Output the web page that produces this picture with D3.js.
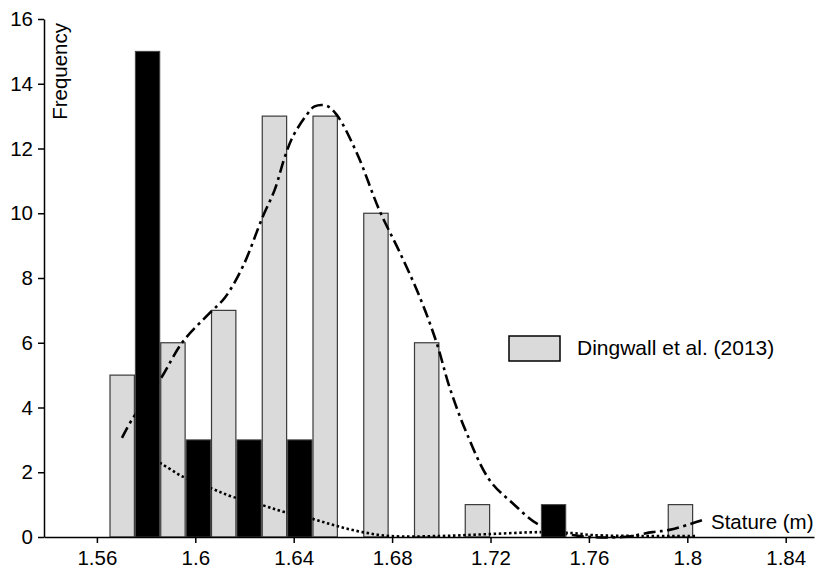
<!DOCTYPE html>
<html>
<head>
<meta charset="utf-8">
<script src="https://cdn.jsdelivr.net/npm/d3@7"></script>
<style>
  body { margin: 0; background: #fff; }
  text { font-family: "Liberation Sans", Arial, Helvetica, sans-serif; fill: #000; }
</style>
</head>
<body>
<svg id="chart" width="816" height="568"></svg>
<script>
// Histogram bins (stature class midpoints, m)
const bins = ["1.57", "1.59", "1.61", "1.63", "1.65", "1.67", "1.69", "1.71", "1.73", "1.75", "1.77", "1.79"];
// Frequencies per bin
const dingwallCounts = [5, 6, 7, 13, 13, 10, 6, 1, 0, 0, 0, 1];
const sampleCounts   = [15, 3, 3, 3, 0, 0, 0, 0, 1, 0, 0, 0];

// Fitted density curve for the Dingwall et al. (2013) series
const dingwallFitX = [1.5702, 1.5742, 1.5856, 1.5949, 1.6059, 1.6120, 1.6193, 1.6274, 1.6323, 1.6363, 1.6396, 1.6453, 1.6485, 1.6534, 1.6575, 1.6656, 1.6749, 1.6830, 1.6912, 1.6981, 1.7033, 1.7103, 1.7196, 1.7289, 1.7399, 1.7533, 1.7736, 1.7858, 1.7927, 1.8036, 1.8060];
const dingwallFitY = [3.06, 3.62, 4.85, 6.03, 6.92, 7.39, 8.35, 9.89, 10.73, 11.72, 12.36, 13.04, 13.30, 13.32, 13.04, 11.87, 10.08, 8.81, 7.42, 6.00, 4.64, 3.21, 1.76, 1.05, 0.37, 0.06, 0.00, 0.15, 0.22, 0.46, 0.52];

// Fitted density curve for the second sample
const sampleFitX = [1.5800, 1.5856, 1.5953, 1.6063, 1.6152, 1.6270, 1.6363, 1.6477, 1.6575, 1.6680, 1.6790, 1.6993, 1.7196, 1.7399, 1.7533, 1.7614, 1.7817, 1.8036];
const sampleFitY = [2.50, 2.29, 1.85, 1.51, 1.24, 0.99, 0.77, 0.56, 0.34, 0.15, 0.03, 0.03, 0.09, 0.15, 0.12, 0.06, 0.03, 0.03];

// Axis ticks
const xTicks = [1.56, 1.60, 1.64, 1.68, 1.72, 1.76, 1.80, 1.84];
const xTickLabels = ["1.56", "1.6", "1.64", "1.68", "1.72", "1.76", "1.8", "1.84"];
const yTicks = [0, 2, 4, 6, 8, 10, 12, 14, 16];
const xDomain = [1.5385, 1.8515];
const yDomain = [0, 16];

const svg = d3.select("#chart");
const plot = { left: 44, right: 814, top: 19, bottom: 537 };

const x = d3.scaleLinear().domain(xDomain).range([plot.left, plot.right]);
const y = d3.scaleLinear().domain(yDomain).range([plot.bottom, plot.top]);
const band = d3.scaleBand().domain(bins).range([109.5, 718.5]).padding(0);
const sub = d3.scaleBand().domain(["dingwall", "sample"]).range([0, band.bandwidth()]).padding(0);

const greyFill = "#d9dad9";
const barStroke = "#3a3a3a";

// Grey bars
svg.append("g").selectAll("rect")
  .data(bins.map((b, i) => ({ b, v: dingwallCounts[i] })).filter(d => d.v > 0))
  .join("rect")
  .attr("x", d => band(d.b) + sub("dingwall") + 0.5)
  .attr("width", sub.bandwidth() - 1)
  .attr("y", d => y(d.v))
  .attr("height", d => y(0) - y(d.v))
  .attr("fill", greyFill)
  .attr("stroke", barStroke)
  .attr("stroke-width", 1.2);

// Fitted curves
const line = d3.line().x(d => x(d[0])).y(d => y(d[1])).curve(d3.curveCatmullRom.alpha(0.5));

svg.append("path")
  .attr("d", line(dingwallFitX.map((v, i) => [v, dingwallFitY[i]])))
  .attr("fill", "none")
  .attr("stroke", "#000")
  .attr("stroke-width", 2.6)
  .attr("stroke-dasharray", "12,4.5,3,4.5");

svg.append("path")
  .attr("d", line(sampleFitX.map((v, i) => [v, sampleFitY[i]])))
  .attr("fill", "none")
  .attr("stroke", "#000")
  .attr("stroke-width", 2.6)
  .attr("stroke-dasharray", "2.5,2.6");

// Black bars
svg.append("g").selectAll("rect")
  .data(bins.map((b, i) => ({ b, v: sampleCounts[i] })).filter(d => d.v > 0))
  .join("rect")
  .attr("x", d => band(d.b) + sub("sample") + 0.5)
  .attr("width", sub.bandwidth() - 1)
  .attr("y", d => y(d.v))
  .attr("height", d => y(0) - y(d.v))
  .attr("fill", "#000")
  .attr("stroke", "#444")
  .attr("stroke-width", 1);

// Axes
const fontSize = "20.5px";
const xAxis = svg.append("g")
  .attr("transform", `translate(0,${plot.bottom})`)
  .call(d3.axisBottom(x).tickValues(xTicks).tickFormat((d, i) => xTickLabels[i]).tickSize(6).tickPadding(7).tickSizeOuter(0));
const yAxis = svg.append("g")
  .attr("transform", `translate(${plot.left},0)`)
  .call(d3.axisLeft(y).tickValues(yTicks).tickFormat(d3.format("d")).tickSize(6).tickPadding(5).tickSizeOuter(0));

[xAxis, yAxis].forEach(g => {
  g.selectAll("path.domain").attr("stroke", "#000").attr("stroke-width", 1.5);
  g.selectAll(".tick line").attr("stroke", "#000").attr("stroke-width", 1.5);
  g.selectAll("text").style("font-size", fontSize).style("font-family", "'Liberation Sans', Arial, sans-serif").attr("fill", "#000");
});

// Axis titles
svg.append("text")
  .attr("transform", `translate(67,23) rotate(-90)`)
  .attr("text-anchor", "end")
  .style("font-size", "20.5px")
  .text("Frequency");

svg.append("text")
  .attr("x", 711)
  .attr("y", 529)
  .style("font-size", "20.5px")
  .text("Stature (m)");

// Legend
const legend = svg.append("g").attr("transform", "translate(509,336)");
legend.append("rect")
  .attr("width", 51).attr("height", 25)
  .attr("fill", greyFill).attr("stroke", "#000").attr("stroke-width", 1.5);
legend.append("text")
  .attr("x", 68).attr("y", 19)
  .style("font-size", "21px")
  .text("Dingwall et al. (2013)");
</script>
</body>
</html>
